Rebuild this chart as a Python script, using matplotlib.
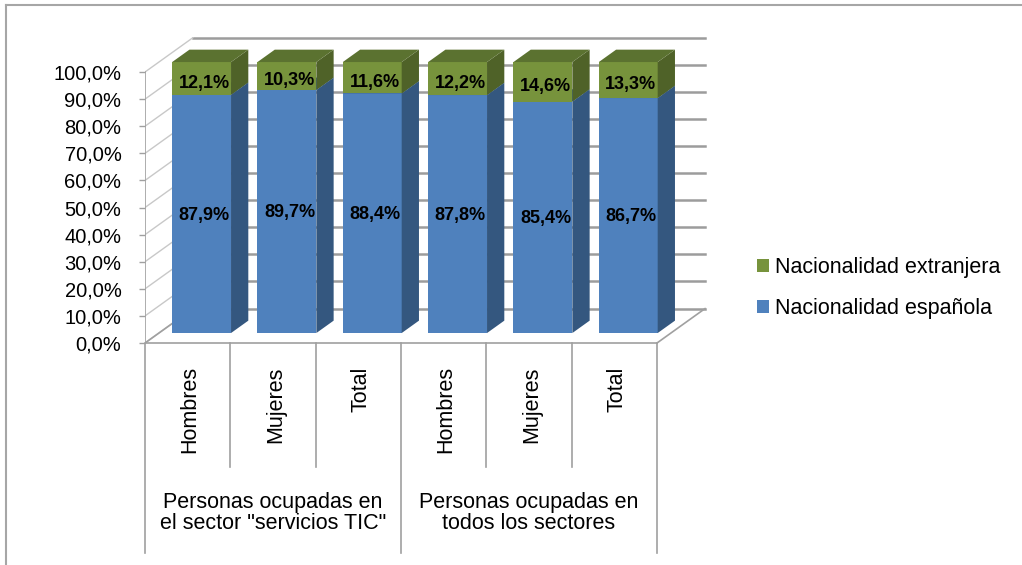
import numpy as np
import matplotlib.pyplot as plt
from matplotlib.patches import Polygon, Patch
from matplotlib.lines import Line2D

plt.rcParams['font.family'] = ['Liberation Sans', 'DejaVu Sans']

categorias = ['Hombres', 'Mujeres', 'Total', 'Hombres', 'Mujeres', 'Total']
grupos = ['Personas ocupadas en\nel sector "servicios TIC"',
          'Personas ocupadas en\ntodos los sectores']
espanola = [87.9, 89.7, 88.4, 87.8, 85.4, 86.7]
extranjera = [12.1, 10.3, 11.6, 12.2, 14.6, 13.3]
series = ['Nacionalidad española', 'Nacionalidad extranjera']

ticks = np.arange(0, 101, 10)

# colours: front, side, top
azul = ('#4F81BD', '#34577F', '#3E6699')
verde = ('#77933C', '#4F6228', '#5B7230')

# 3d look
DX = 0.5625   # depth in category units
DY = 12.7     # depth in percent
f0, f1 = 0.29, 0.65
W = 0.69

def pt(x, y, f):
    return (x + f * DX, y + f * DY)

def pct(v):
    return ('%.1f%%' % v).replace('.', ',')

fig = plt.figure(figsize=(10.22, 5.65), dpi=100)
ax = fig.add_axes([145 / 1022, 5.2 / 565, 563.2 / 1022, 523 / 565])
ax.set_xlim(0, 6.6)
ax.set_ylim(-80, 113)
for s in ax.spines.values():
    s.set_visible(False)
ax.set_xticks([])
ax.set_yticks(ticks)
ax.set_yticklabels([pct(t) for t in ticks], fontsize=14.5)
ax.tick_params(axis='y', length=4, width=1, color='#A0A0A0', pad=13)

n = len(categorias)

# back wall and left wall grid
for t in ticks:
    a = pt(0, t, 1); b = pt(n, t, 1)
    ax.plot([a[0], b[0]], [a[1], b[1]], color='#9C9C9C', lw=1.8, zorder=1)
    c = pt(0, t, 0)
    ax.plot([c[0], a[0]], [c[1], a[1]], color='#C8C8C8', lw=1, zorder=1)

# floor and front axis
grey = '#A0A0A0'
for (p, q) in [(pt(0, 0, 0), pt(n, 0, 0)), (pt(n, 0, 0), pt(n, 0, 1)),
               (pt(0, 0, 0), pt(0, 0, 1)), (pt(0, 0, 0), pt(0, 100, 0))]:
    ax.plot([p[0], q[0]], [p[1], q[1]], color=grey, lw=1.2, zorder=1)

# category separators
for k in range(n + 1):
    bottom = -77.5 if k % 3 == 0 else -45.8
    ax.plot([k, k], [0, bottom], color=grey, lw=1.2, clip_on=False, zorder=1)

def caja(xc, y0, y1, cols, z):
    xl = xc - W / 2; xr = xc + W / 2
    front = [pt(xl, y0, f0), pt(xr, y0, f0), pt(xr, y1, f0), pt(xl, y1, f0)]
    side = [pt(xr, y0, f0), pt(xr, y0, f1), pt(xr, y1, f1), pt(xr, y1, f0)]
    top = [pt(xl, y1, f0), pt(xr, y1, f0), pt(xr, y1, f1), pt(xl, y1, f1)]
    ax.add_patch(Polygon(front, closed=True, fc=cols[0], ec='none', zorder=z))
    ax.add_patch(Polygon(side, closed=True, fc=cols[1], ec='none', zorder=z))
    ax.add_patch(Polygon(top, closed=True, fc=cols[2], ec='none', zorder=z))

for i in range(n):
    xc = i + 0.5
    e = espanola[i]; x = extranjera[i]
    caja(xc, 0, e, azul, 3)
    caja(xc, e, e + x, verde, 4)
    lx, ly = pt(xc, e / 2 - 0.5, f0)
    ax.text(lx + 0.03, ly, pct(e), ha='center', va='center',
            fontsize=13, fontweight='bold', zorder=6)
    lx, ly = pt(xc, e + x / 2 - 1.8, f0)
    ax.text(lx + 0.03, ly, pct(x), ha='center', va='center',
            fontsize=13, fontweight='bold', zorder=6)
    ax.text(xc + 0.03, -8.6, categorias[i], rotation=90, ha='center', va='top',
            fontsize=15.5)

for g in range(2):
    ax.text(1.5 + 3 * g, -62.7, grupos[g], ha='center', va='center', fontsize=15.5,
            linespacing=1.0)

handles = [Patch(fc=verde[0], ec='none', label=series[1]),
           Patch(fc=azul[0], ec='none', label=series[0])]
fig.legend(handles=handles, loc='upper left', bbox_to_anchor=(757 / 1022, 1 - 257 / 565),
           frameon=False, fontsize=15.5, handlelength=0.55, handleheight=0.55,
           handletextpad=0.3, labelspacing=0.95, borderpad=0, borderaxespad=0)

# chart frame (partly outside the image)
fig.add_artist(Line2D([6 / 1022, 6 / 1022], [0, 1 - 5 / 565], color='#A6A6A6', lw=1.5))
fig.add_artist(Line2D([6 / 1022, 1], [1 - 5 / 565, 1 - 5 / 565], color='#A6A6A6', lw=1.5))

fig.savefig('out.png', dpi=100)
